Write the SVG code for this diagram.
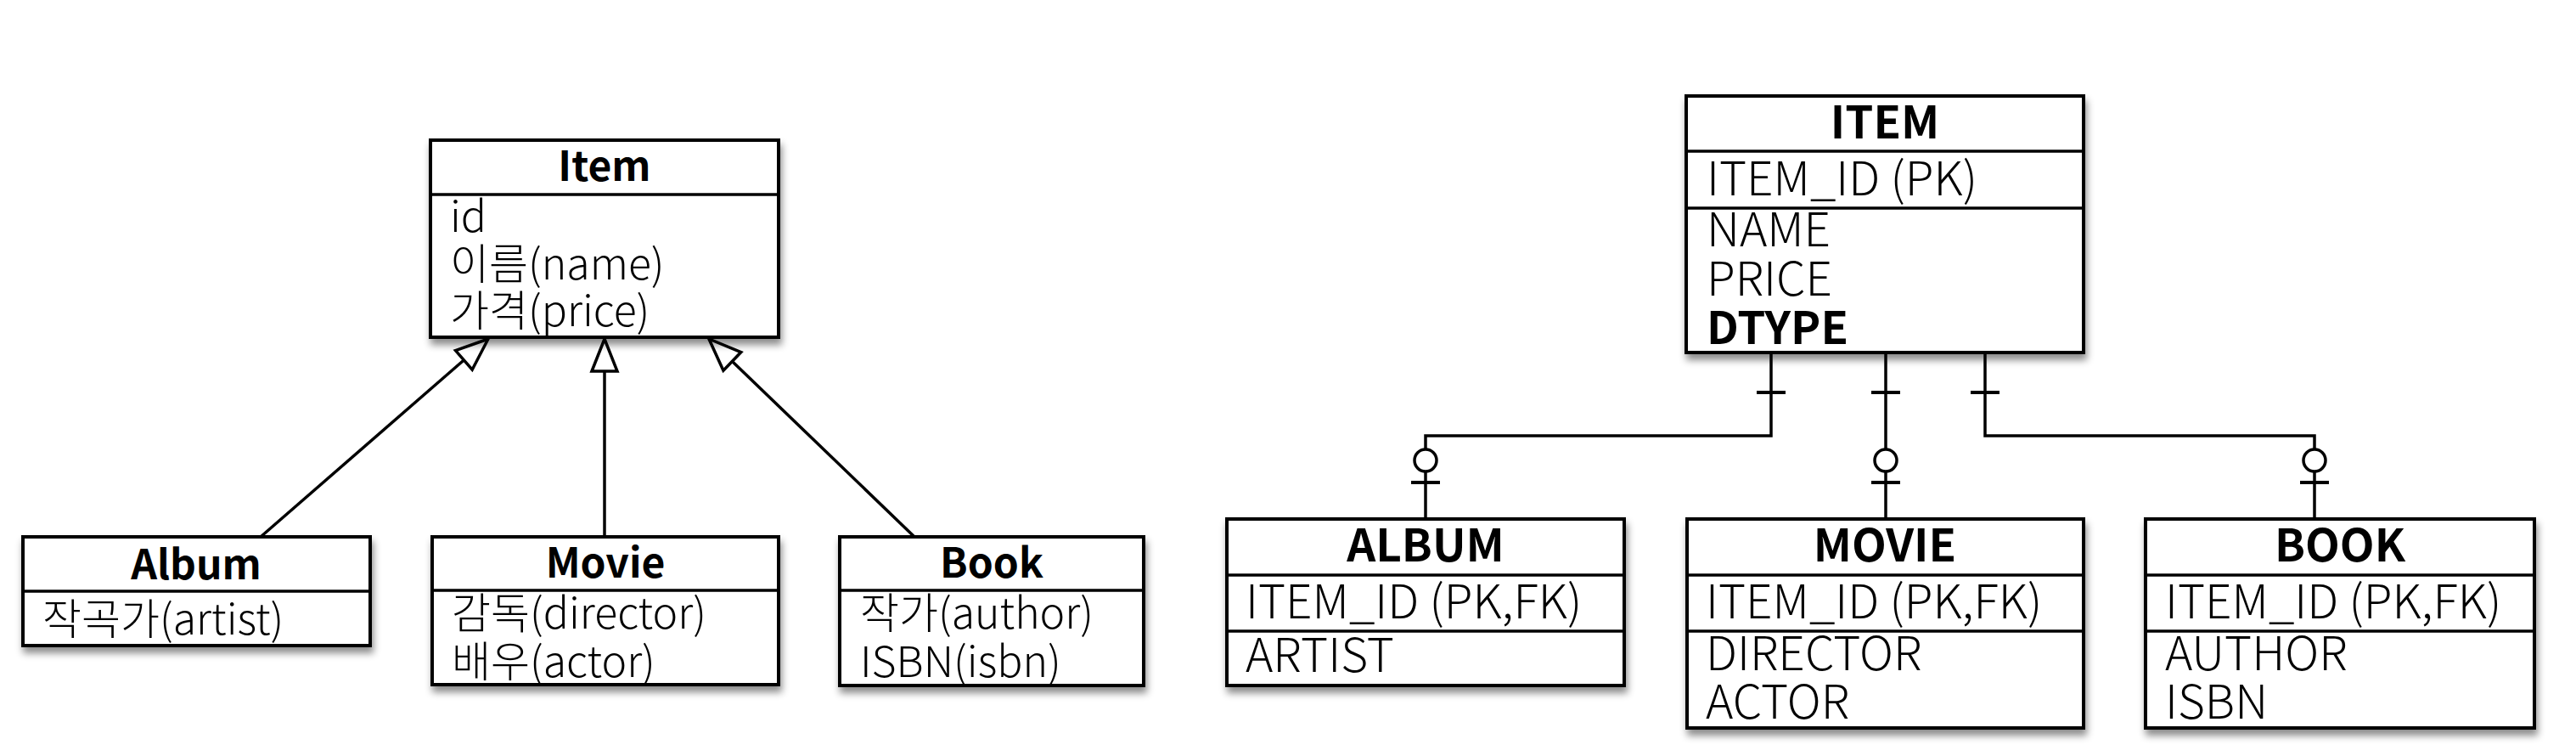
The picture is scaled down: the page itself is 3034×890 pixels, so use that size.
<svg xmlns="http://www.w3.org/2000/svg" width="3034" height="890" viewBox="0 0 3034 890">
<defs>
<filter id="sh" x="-10%" y="-10%" width="120%" height="130%">
<feDropShadow dx="2" dy="7" stdDeviation="4" flood-color="#000" flood-opacity="0.45"/>
</filter>
<marker id="tri" viewBox="0 0 40 32" refX="39" refY="16" markerWidth="40" markerHeight="32" orient="auto" markerUnits="userSpaceOnUse" overflow="visible">
<path d="M1,1 L39,16 L1,31 Z" fill="#fff" stroke="#000" stroke-width="3.5" stroke-linejoin="miter"/>
</marker>
</defs>
<style>
text{font-family:"Noto Sans CJK KR","Noto Sans",sans-serif;fill:#000}
.box{fill:#fff;stroke:#000;stroke-width:4;filter:url(#sh)}
.sep{stroke:#000;stroke-width:3.5}
.t1{font-size:48px;font-weight:700;text-anchor:middle}
.a1{font-size:50px;font-weight:300}
.t2{font-size:53px;font-weight:700;text-anchor:middle}
.a2{font-size:55px;font-weight:300}
.b2{font-size:53px;font-weight:700}
.ln{fill:none;stroke:#000;stroke-width:3.5}
.tick{stroke:#000;stroke-width:4}
.circ{fill:#fff;stroke:#000;stroke-width:3.5}
</style>
<rect width="3034" height="890" fill="#fff"/>

<g id="connectors">
<path class="ln" d="M307,632 L575,399" marker-end="url(#tri)"/>
<path class="ln" d="M712,632 L712,399" marker-end="url(#tri)"/>
<path class="ln" d="M1077,632 L835,399" marker-end="url(#tri)"/>

<path class="ln" d="M2086,415 V513 H1679 V611"/>
<path class="ln" d="M2221,415 V611"/>
<path class="ln" d="M2338,415 V513 H2726 V611"/>
<line class="tick" x1="2069" y1="462" x2="2103" y2="462"/>
<line class="tick" x1="2204" y1="462" x2="2238" y2="462"/>
<line class="tick" x1="2321" y1="462" x2="2355" y2="462"/>
<circle class="circ" cx="1679" cy="542" r="13"/>
<circle class="circ" cx="2221" cy="542" r="13"/>
<circle class="circ" cx="2726" cy="542" r="13"/>
<line class="tick" x1="1662" y1="568" x2="1696" y2="568"/>
<line class="tick" x1="2204" y1="568" x2="2238" y2="568"/>
<line class="tick" x1="2709" y1="568" x2="2743" y2="568"/>
</g>

<g id="item-class">
<rect class="box" x="507" y="165" width="410" height="232"/>
<line class="sep" x1="507" y1="229" x2="917" y2="229"/>
<text class="t1" x="712" y="213">Item</text>
<text class="a1" x="530" y="273">id</text>
<text class="a1" x="530" y="329">이름(name)</text>
<text class="a1" x="530" y="384">가격(price)</text>
</g>

<g id="album-class">
<rect class="box" x="27" y="632" width="409" height="128"/>
<line class="sep" x1="27" y1="696" x2="436" y2="696"/>
<text class="t1" x="231" y="682">Album</text>
<text class="a1" x="50" y="747">작곡가(artist)</text>
</g>

<g id="movie-class">
<rect class="box" x="509" y="632" width="408" height="174"/>
<line class="sep" x1="509" y1="695" x2="917" y2="695"/>
<text class="t1" x="713" y="680">Movie</text>
<text class="a1" x="532" y="740">감독(director)</text>
<text class="a1" x="532" y="797">배우(actor)</text>
</g>

<g id="book-class">
<rect class="box" x="989" y="632" width="358" height="175"/>
<line class="sep" x1="989" y1="695" x2="1347" y2="695"/>
<text class="t1" x="1168" y="680">Book</text>
<text class="a1" x="1013" y="740">작가(author)</text>
<text class="a1" x="1013" y="797">ISBN(isbn)</text>
</g>

<g id="item-table">
<rect class="box" x="1986" y="113" width="468" height="302"/>
<line class="sep" x1="1986" y1="178" x2="2454" y2="178"/>
<line class="sep" x1="1986" y1="245" x2="2454" y2="245"/>
<text class="t2" x="2220" y="163">ITEM</text>
<text class="a2" x="2010" y="230">ITEM_ID (PK)</text>
<text class="a2" x="2010" y="290">NAME</text>
<text class="a2" x="2010" y="348">PRICE</text>
<text class="b2" x="2010" y="405">DTYPE</text>
</g>

<g id="album-table">
<rect class="box" x="1445" y="611" width="468" height="196"/>
<line class="sep" x1="1445" y1="677" x2="1913" y2="677"/>
<line class="sep" x1="1445" y1="743" x2="1913" y2="743"/>
<text class="t2" x="1679" y="661">ALBUM</text>
<text class="a2" x="1467" y="728">ITEM_ID (PK,FK)</text>
<text class="a2" x="1467" y="791">ARTIST</text>
</g>

<g id="movie-table">
<rect class="box" x="1987" y="611" width="467" height="246"/>
<line class="sep" x1="1987" y1="677" x2="2454" y2="677"/>
<line class="sep" x1="1987" y1="743" x2="2454" y2="743"/>
<text class="t2" x="2220" y="661">MOVIE</text>
<text class="a2" x="2009" y="728">ITEM_ID (PK,FK)</text>
<text class="a2" x="2009" y="789">DIRECTOR</text>
<text class="a2" x="2009" y="846">ACTOR</text>
</g>

<g id="book-table">
<rect class="box" x="2527" y="611" width="458" height="246"/>
<line class="sep" x1="2527" y1="677" x2="2985" y2="677"/>
<line class="sep" x1="2527" y1="743" x2="2985" y2="743"/>
<text class="t2" x="2756" y="661">BOOK</text>
<text class="a2" x="2550" y="728">ITEM_ID (PK,FK)</text>
<text class="a2" x="2550" y="789">AUTHOR</text>
<text class="a2" x="2550" y="846">ISBN</text>
</g>
</svg>
